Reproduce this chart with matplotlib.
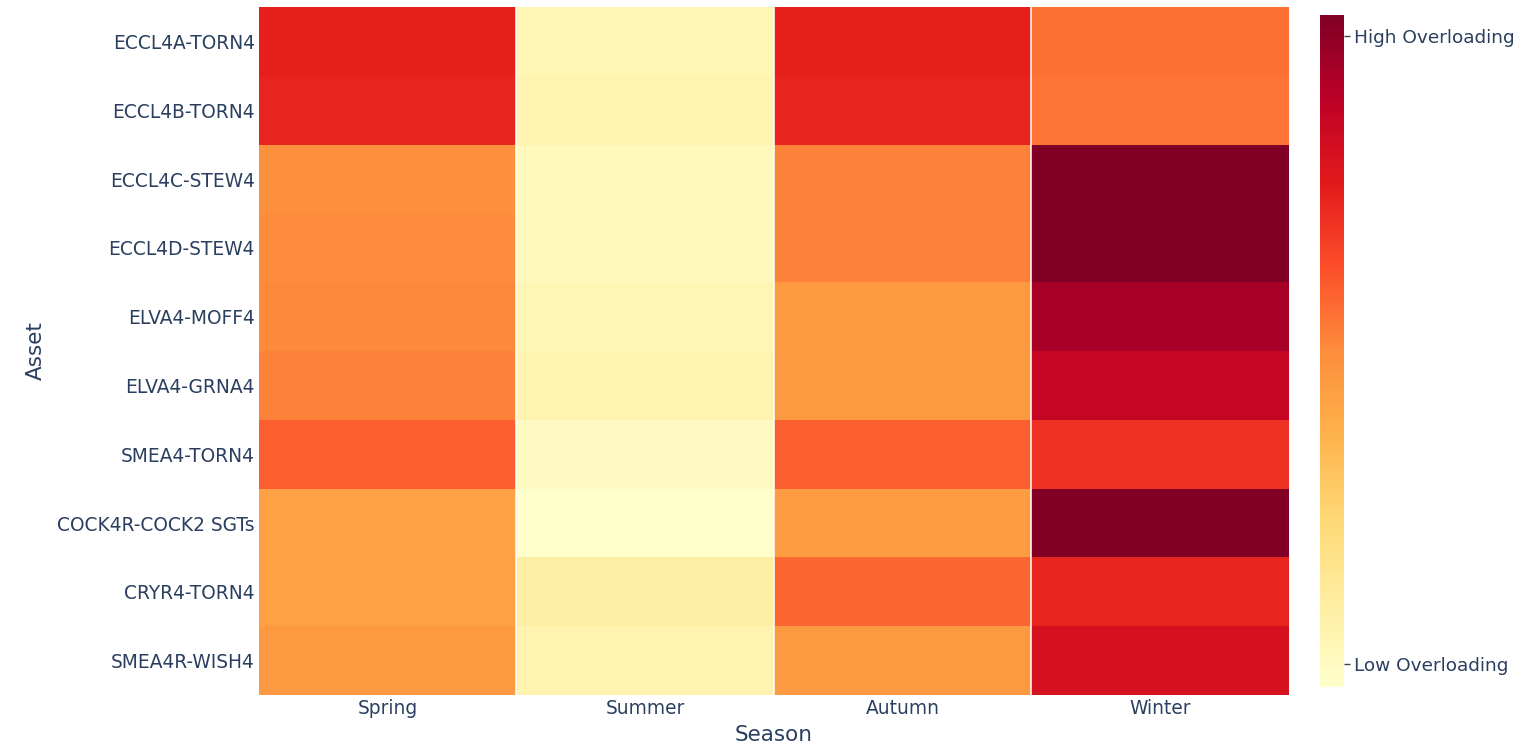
import numpy as np
import matplotlib
matplotlib.use("Agg")
from matplotlib import pyplot as plt

plt.rcParams['font.family'] = ['DejaVu Sans']

assets = ["ECCL4A-TORN4", "ECCL4B-TORN4", "ECCL4C-STEW4", "ECCL4D-STEW4",
          "ELVA4-MOFF4", "ELVA4-GRNA4", "SMEA4-TORN4", "COCK4R-COCK2 SGTs",
          "CRYR4-TORN4", "SMEA4R-WISH4"]
seasons = ["Spring", "Summer", "Autumn", "Winter"]

# overloading level per asset (rows) and season (columns), 0 = low, 1 = high
spring = [0.735, 0.725, 0.49, 0.50, 0.505, 0.52, 0.59, 0.436, 0.43, 0.46]
summer = [0.07, 0.083, 0.04, 0.045, 0.07, 0.083, 0.035, 0.00, 0.11, 0.083]
autumn = [0.735, 0.725, 0.52, 0.52, 0.46, 0.46, 0.59, 0.45, 0.577, 0.46]
winter = [0.557, 0.548, 1.00, 1.00, 0.918, 0.85, 0.695, 0.995, 0.725, 0.79]

z = np.array([spring, summer, autumn, winter]).T
text_color = "#2a3f5f"

fig = plt.figure(figsize=(15.38, 7.53), dpi=100)
ax = fig.add_axes([0.1684, 0.077, 0.6697, 0.9137])
cax = fig.add_axes([0.8583, 0.0876, 0.0156, 0.8924])

mesh = ax.pcolormesh(np.arange(len(seasons) + 1) - 0.5,
                     np.arange(len(assets) + 1) - 0.5,
                     z, cmap="YlOrRd", vmin=0, vmax=1)
ax.set_ylim(len(assets) - 0.5, -0.5)
ax.set_xlim(-0.5, len(seasons) - 0.5)

# white gaps between season columns
for i in range(1, len(seasons)):
    ax.axvline(i - 0.5, color="white", lw=1.4, alpha=0.8)

ax.set_xticks(range(len(seasons)))
ax.set_xticklabels(seasons)
ax.set_yticks(range(len(assets)))
ax.set_yticklabels(assets)
ax.tick_params(length=0, labelsize=13.4, colors=text_color, pad=3)
for s in ax.spines.values():
    s.set_visible(False)
ax.set_xlabel("Season", fontsize=15.5, color=text_color, labelpad=5)
ax.set_ylabel("Asset", fontsize=15.5, color=text_color, labelpad=8)

cb = fig.colorbar(mesh, cax=cax)
cb.outline.set_visible(False)
cb.set_ticks([0.034, 0.969])
cb.set_ticklabels(["Low Overloading", "High Overloading"])
cax.tick_params(length=4, width=1, colors="#444444", labelsize=13.3,
                labelcolor=text_color, pad=3)

plt.savefig("out.png", dpi=100)
